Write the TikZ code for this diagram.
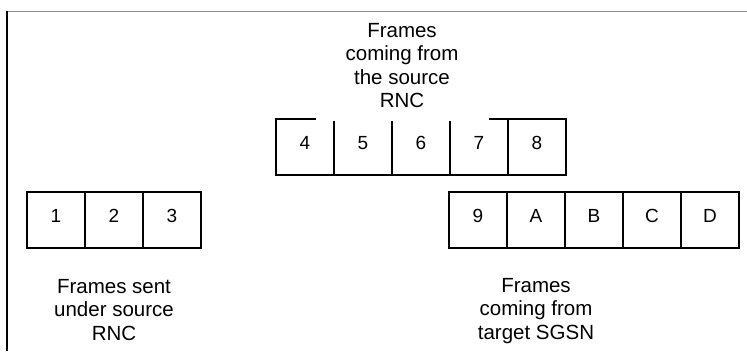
\documentclass[tikz,border=0pt]{standalone}
\usepackage{fontspec}
\setmainfont{Liberation Sans}
\usetikzlibrary{positioning}
\tikzset{
    frame box/.style={draw,line width=1.2pt,minimum width=58pt,inner sep=0pt,outer sep=0pt,
        text height=30pt,text depth=26pt,font=\fontsize{19}{22}\selectfont},
    caption text/.style={align=center,inner sep=0pt,font=\fontsize{20.5}{23.5}\selectfont},
    page edge/.style={line width=#1},
}

\begin{document}
\begin{tikzpicture}[x=1pt,y=-1pt]
    \useasboundingbox (0,0) rectangle (747,351);
    \draw[page edge=1pt,black!45] (6,11.5) -- (747,11.5);
    \draw[page edge=2pt] (7,11) -- (7,351);

    % frames sent under the source RNC
    \node[frame box,anchor=north west] (f1) at (27,192) {1};
    \foreach \n/\p in {2/1,3/2}
        \node[frame box,right=0pt of f\p] (f\n) {\n};

    % frames from the source RNC
    \node[frame box,anchor=north west] (f4) at (276,119) {4};
    \foreach \n/\p in {5/4,6/5,7/6,8/7}
        \node[frame box,right=0pt of f\p] (f\n) {\n};

    % frames from the target SGSN
    \node[frame box,anchor=north west] (f9) at (449,192) {9};
    \foreach \n/\p in {A/9,B/A,C/B,D/C}
        \node[frame box,right=0pt of f\p] (f\n) {\n};

    \fill[white] (316,117.5) rectangle (489,120.5);

    \node[caption text,anchor=north] (src) at (402,23) {Frames\\coming from\\the source\\RNC};
    \node[caption text,below=31pt of f2] (sent) {Frames sent\\under source\\RNC};
    \node[caption text,below=30pt of fA] (tgt) {Frames\\coming from\\target SGSN};
\end{tikzpicture}
\end{document}
